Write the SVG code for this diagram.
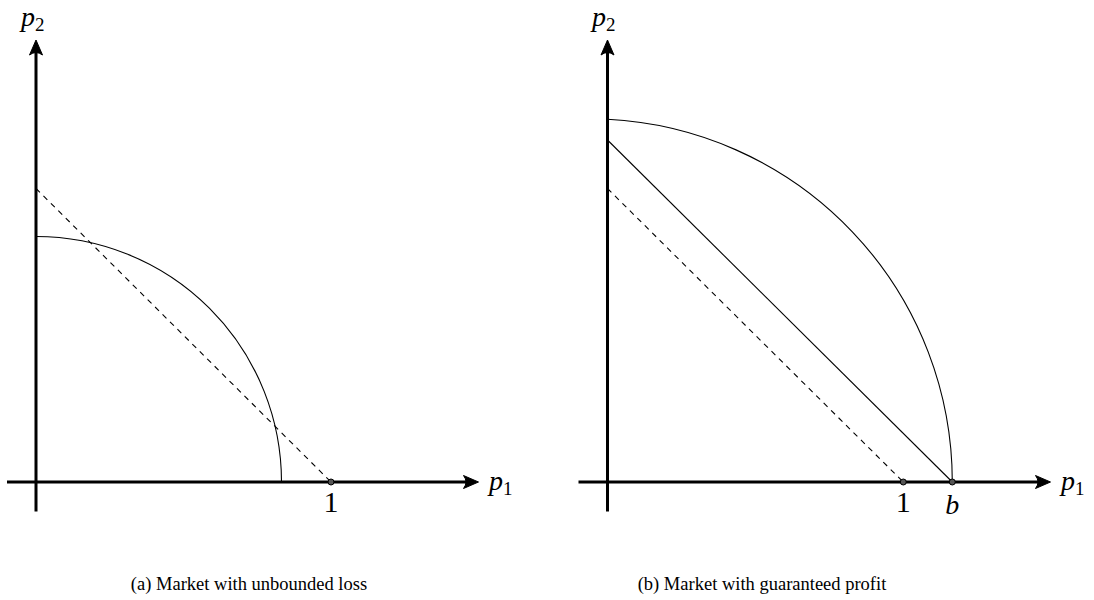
<svg xmlns="http://www.w3.org/2000/svg" width="1094" height="600" viewBox="0 0 1094 600">
<style>
.axis{stroke:#000;stroke-width:3;fill:none}
.thin{stroke:#000;stroke-width:1.1;fill:none}
.dash{stroke:#000;stroke-width:1.1;fill:none;stroke-dasharray:5.5 5}
.head{fill:#000;stroke:#000;stroke-width:1;stroke-linejoin:round}
.dot{fill:#555;stroke:#000;stroke-width:1}
.math{font-family:"Liberation Serif","DejaVu Serif",serif;font-style:italic;font-size:28px;fill:#000}
.sub{font-style:normal;font-size:19px}
.num{font-family:"Liberation Serif","DejaVu Serif",serif;font-size:30px;fill:#000}
.cap{font-family:"Liberation Serif","DejaVu Serif",serif;font-size:18.5px;fill:#000}
</style>
<defs>
<path id="ah" d="M 0 0 L -15 -6.5 Q -10 0 -15 6.5 Z"/>
</defs>
<rect width="1094" height="600" fill="#fff"/>
<g id="panel-a">
  <g id="axes-a">
    <line class="axis" x1="36" y1="511.5" x2="36" y2="45"/>
    <line class="axis" x1="7" y1="482" x2="473" y2="482"/>
    <use href="#ah" class="head" transform="translate(36 40) rotate(-90)"/>
    <use href="#ah" class="head" transform="translate(478.5 482)"/>
  </g>
  <g id="curves-a">
    <path class="thin" d="M 36 236.5 A 245.5 245.5 0 0 1 281.5 482"/>
    <path class="dash" d="M 36 188.5 L 331 482"/>
  </g>
  <circle class="dot" cx="331" cy="482" r="3"/>
  <text class="math" x="21" y="26">p<tspan class="sub" dy="5">2</tspan></text>
  <text class="math" x="489" y="490">p<tspan class="sub" dy="5">1</tspan></text>
  <text class="num" x="331" y="512" text-anchor="middle">1</text>
  <text class="cap" x="249" y="590" text-anchor="middle">(a) Market with unbounded loss</text>
</g>
<g id="panel-b">
  <g id="axes-b">
    <line class="axis" x1="607.5" y1="511.5" x2="607.5" y2="45"/>
    <line class="axis" x1="578.5" y1="482" x2="1045" y2="482"/>
    <use href="#ah" class="head" transform="translate(607.5 40) rotate(-90)"/>
    <use href="#ah" class="head" transform="translate(1050.5 482)"/>
  </g>
  <g id="curves-b">
    <path class="thin" d="M 607.5 119.3 A 363.2 363.2 0 0 1 952.3 482"/>
    <path class="thin" d="M 607.5 140 L 952.3 482"/>
    <path class="dash" d="M 607.5 188.5 L 903.3 482"/>
  </g>
  <circle class="dot" cx="903.3" cy="482" r="3"/>
  <circle class="dot" cx="952.3" cy="482" r="3"/>
  <text class="math" x="592" y="26">p<tspan class="sub" dy="5">2</tspan></text>
  <text class="math" x="1061" y="490">p<tspan class="sub" dy="5">1</tspan></text>
  <text class="num" x="903.3" y="512" text-anchor="middle">1</text>
  <text class="math" x="952.3" y="514" text-anchor="middle">b</text>
  <text class="cap" x="762" y="590" text-anchor="middle">(b) Market with guaranteed profit</text>
</g>
</svg>
